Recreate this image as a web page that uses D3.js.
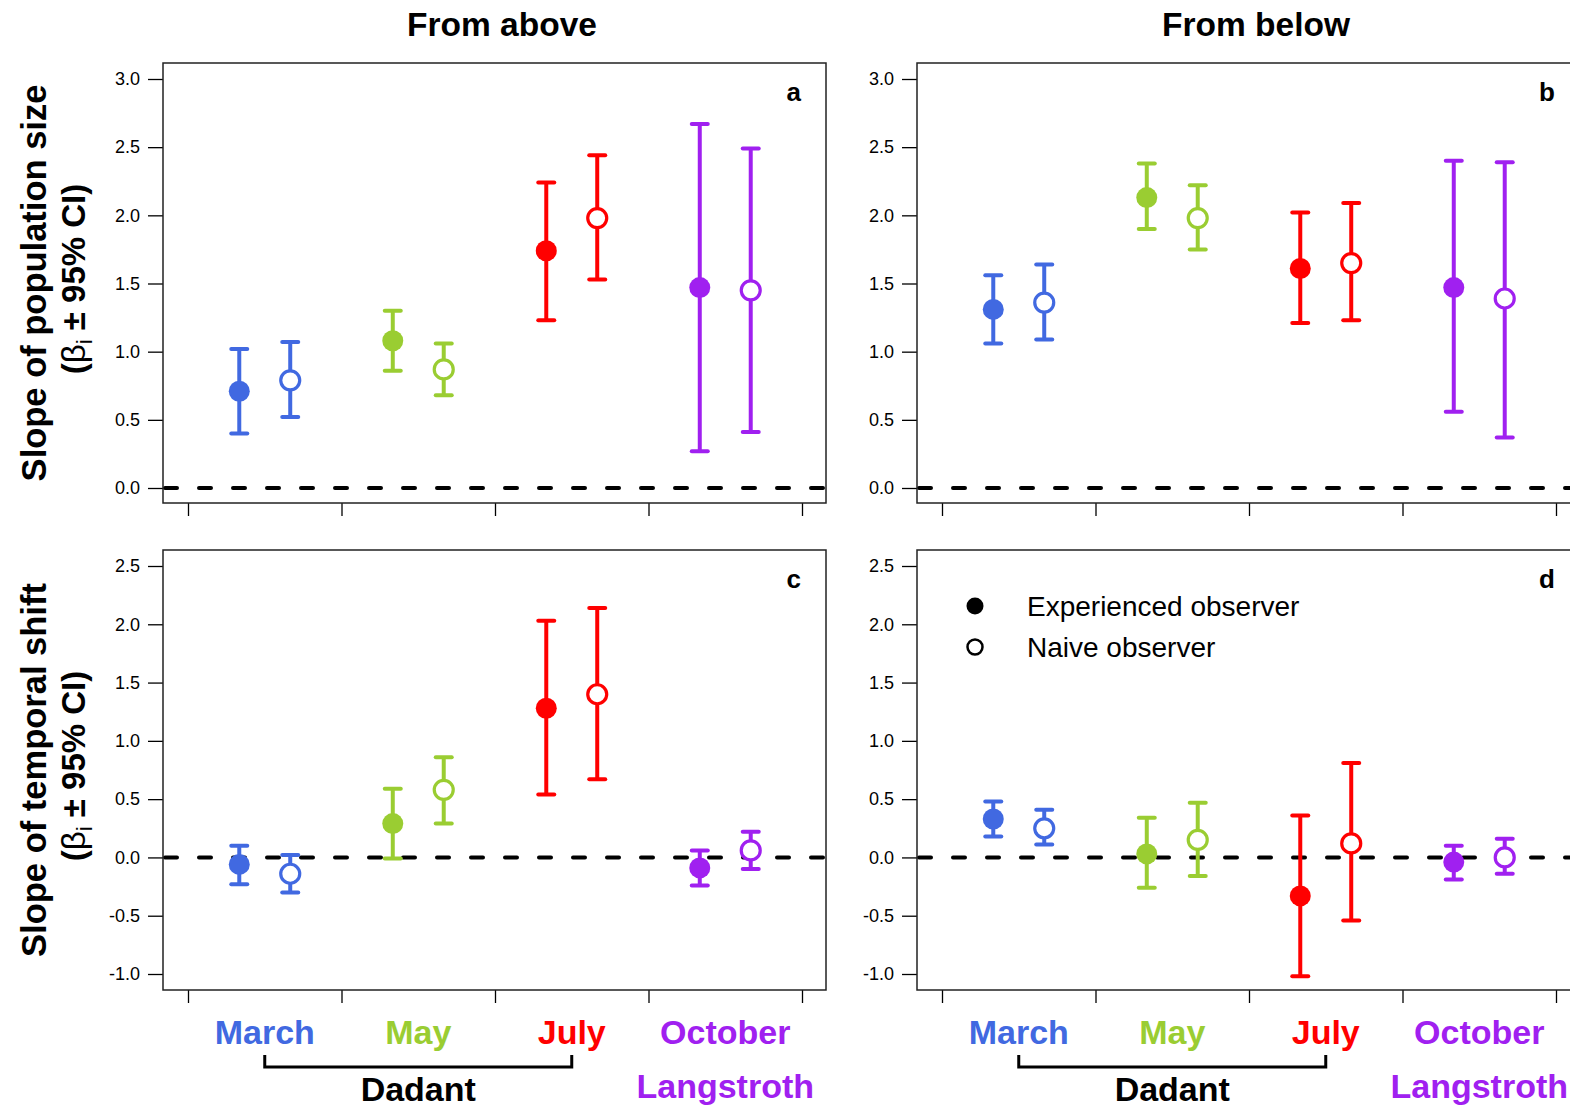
<!DOCTYPE html>
<html>
<head>
<meta charset="utf-8">
<script src="https://cdn.jsdelivr.net/npm/d3@7"></script>
<style>
  html, body { margin: 0; padding: 0; background: #fff; }
  svg { display: block; font-family: "Liberation Sans", Arial, Helvetica, sans-serif; }
</style>
</head>
<body>
<svg id="chart" width="1570" height="1109"></svg>
<script>
// ---------------- DATA ----------------
const months = ["March", "May", "July", "October"];
const monthColors = ["#4169E1", "#9ACD32", "#FF0000", "#A020F0"];
const observers = ["Experienced observer", "Naive observer"];

// Panel a: From above, population size  [exp, naive] per month
const aEst   = [[0.71, 0.79], [1.08, 0.87], [1.74, 1.98], [1.47, 1.45]];
const aLow   = [[0.40, 0.52], [0.86, 0.68], [1.23, 1.53], [0.27, 0.41]];
const aHigh  = [[1.02, 1.07], [1.30, 1.06], [2.24, 2.44], [2.67, 2.49]];
// Panel b: From below, population size
const bEst   = [[1.31, 1.36], [2.13, 1.98], [1.61, 1.65], [1.47, 1.39]];
const bLow   = [[1.06, 1.09], [1.90, 1.75], [1.21, 1.23], [0.56, 0.37]];
const bHigh  = [[1.56, 1.64], [2.38, 2.22], [2.02, 2.09], [2.40, 2.39]];
// Panel c: From above, temporal shift
const cEst   = [[-0.06, -0.14], [0.29, 0.58], [1.28, 1.40], [-0.09, 0.06]];
const cLow   = [[-0.23, -0.30], [-0.01, 0.29], [0.54, 0.67], [-0.24, -0.10]];
const cHigh  = [[0.10, 0.02], [0.59, 0.86], [2.03, 2.14], [0.06, 0.22]];
// Panel d: From below, temporal shift
const dEst   = [[0.33, 0.25], [0.03, 0.15], [-0.33, 0.12], [-0.04, 0.00]];
const dLow   = [[0.18, 0.11], [-0.26, -0.16], [-1.02, -0.54], [-0.19, -0.14]];
const dHigh  = [[0.48, 0.41], [0.34, 0.47], [0.36, 0.81], [0.10, 0.16]];

const ticksPop = [0, 0.5, 1.0, 1.5, 2.0, 2.5, 3.0];
const ticksShift = [-1.0, -0.5, 0, 0.5, 1.0, 1.5, 2.0, 2.5];
const xTicks = [0.5, 1.5, 2.5, 3.5, 4.5];
const columnTitles = ["From above", "From below"];
const panelLetters = ["a", "b", "c", "d"];
const rowTitles = ["Slope of population size", "Slope of temporal shift"];
const groupLabels = ["Dadant", "Langstroth"];

// ---------------- LAYOUT ----------------
const svg = d3.select("#chart");
const FONT = "'Liberation Sans', Arial, Helvetica, sans-serif";
const pw = 663, ph = 440;
const colX = [163, 917];
const rowY = [63, 550];
const fmt = d3.formatLocale({decimal: ".", thousands: ",", grouping: [3], currency: ["", ""], minus: "-"}).format(".1f");

const x = d3.scaleLinear().domain([0.5, 4.5]).range([25, 639]);
const offset = 0.166;
const yPop = d3.scaleLinear().domain([0, 3]).range([425, 16]);
const yShift = d3.scaleLinear().domain([-1, 2.5]).range([424, 16]);

const panels = [
  {est: aEst, low: aLow, high: aHigh, col: 0, row: 0, y: yPop, ticks: ticksPop, letter: panelLetters[0]},
  {est: bEst, low: bLow, high: bHigh, col: 1, row: 0, y: yPop, ticks: ticksPop, letter: panelLetters[1]},
  {est: cEst, low: cLow, high: cHigh, col: 0, row: 1, y: yShift, ticks: ticksShift, letter: panelLetters[2]},
  {est: dEst, low: dLow, high: dHigh, col: 1, row: 1, y: yShift, ticks: ticksShift, letter: panelLetters[3], legend: true}
];

panels.forEach(p => {
  const g = svg.append("g").attr("transform", `translate(${colX[p.col]},${rowY[p.row]})`);

  // y axis
  const ya = g.append("g").call(d3.axisLeft(p.y).tickValues(p.ticks).tickFormat(fmt).tickSize(15).tickPadding(8));
  ya.select(".domain").remove();
  ya.selectAll("line").attr("stroke", "#000").attr("stroke-width", 1.3);
  ya.selectAll("text").attr("font-family", FONT).attr("font-size", 18).attr("fill", "#000");

  // x axis (ticks only)
  const xa = g.append("g").attr("transform", `translate(0,${ph})`)
    .call(d3.axisBottom(x).tickValues(xTicks).tickFormat("").tickSize(13).tickSizeOuter(0));
  xa.select(".domain").remove();
  xa.selectAll("line").attr("stroke", "#000").attr("stroke-width", 1.3);

  // zero dashed line
  g.append("line")
    .attr("x1", 2).attr("x2", pw).attr("y1", p.y(0)).attr("y2", p.y(0))
    .attr("stroke", "#000").attr("stroke-width", 4)
    .attr("stroke-dasharray", "12,22").attr("stroke-linecap", "round");

  // data
  const rows = [];
  months.forEach((m, i) => {
    [0, 1].forEach(o => {
      rows.push({
        xv: (i + 1) + (o === 0 ? -offset : offset),
        est: p.est[i][o], low: p.low[i][o], high: p.high[i][o],
        color: monthColors[i], open: o === 1
      });
    });
  });

  const marks = g.selectAll(".mark").data(rows).enter().append("g").attr("class", "mark");
  marks.append("line")
    .attr("x1", d => x(d.xv)).attr("x2", d => x(d.xv))
    .attr("y1", d => p.y(d.low)).attr("y2", d => p.y(d.high))
    .attr("stroke", d => d.color).attr("stroke-width", 4);
  marks.append("line")
    .attr("x1", d => x(d.xv) - 8).attr("x2", d => x(d.xv) + 8)
    .attr("y1", d => p.y(d.high)).attr("y2", d => p.y(d.high))
    .attr("stroke", d => d.color).attr("stroke-width", 4).attr("stroke-linecap", "round");
  marks.append("line")
    .attr("x1", d => x(d.xv) - 8).attr("x2", d => x(d.xv) + 8)
    .attr("y1", d => p.y(d.low)).attr("y2", d => p.y(d.low))
    .attr("stroke", d => d.color).attr("stroke-width", 4).attr("stroke-linecap", "round");
  marks.append("circle")
    .attr("cx", d => x(d.xv)).attr("cy", d => p.y(d.est))
    .attr("r", d => d.open ? 9.5 : 10.5)
    .attr("fill", d => d.open ? "#fff" : d.color)
    .attr("stroke", d => d.open ? d.color : "none")
    .attr("stroke-width", 3.2);

  // frame
  g.append("rect").attr("x", 0).attr("y", 0).attr("width", pw).attr("height", ph)
    .attr("fill", "none").attr("stroke", "#222").attr("stroke-width", 1.5);

  // panel letter
  g.append("text").attr("x", 638).attr("y", 38).attr("text-anchor", "end")
    .attr("font-family", FONT).attr("font-weight", "bold").attr("font-size", 26)
    .text(p.letter);

  // legend
  if (p.legend) {
    const lg = g.append("g");
    observers.forEach((lab, k) => {
      const cy = 56 + k * 41;
      lg.append("circle").attr("cx", 58).attr("cy", cy)
        .attr("r", k === 0 ? 8.5 : 7.5)
        .attr("fill", k === 0 ? "#000" : "#fff")
        .attr("stroke", k === 0 ? "none" : "#000").attr("stroke-width", 2.5);
      lg.append("text").attr("x", 110).attr("y", cy + 10)
        .attr("font-family", FONT).attr("font-size", 28).text(lab);
    });
  }
});

// column titles
columnTitles.forEach((t, c) => {
  svg.append("text").attr("x", colX[c] + 339).attr("y", 36).attr("text-anchor", "middle")
    .attr("font-family", FONT).attr("font-weight", "bold").attr("font-size", 33.5).text(t);
});

// row titles
rowTitles.forEach((t, r) => {
  const cy = rowY[r] + ph / 2;
  svg.append("text").attr("transform", `translate(46,${cy}) rotate(-90)`)
    .attr("text-anchor", "middle").attr("font-family", FONT).attr("font-weight", "bold")
    .attr("font-size", 34.5).text(t);
  const t2 = svg.append("text").attr("transform", `translate(85,${cy - 4}) rotate(-90)`)
    .attr("text-anchor", "middle").attr("font-family", FONT).attr("font-weight", "bold")
    .attr("font-size", 33);
  t2.append("tspan").text("(");
  t2.append("tspan").attr("font-weight", "normal").text("β");
  t2.append("tspan").attr("font-weight", "normal").attr("font-size", 22).attr("dy", 7).text("i");
  t2.append("tspan").attr("dy", -7).text(" ± 95% CI)");
});

// month labels and brackets
colX.forEach(cx => {
  months.forEach((m, i) => {
    svg.append("text").attr("x", cx + x(i + 1)).attr("y", 1044).attr("text-anchor", "middle")
      .attr("font-family", FONT).attr("font-weight", "bold").attr("font-size", 34)
      .attr("fill", monthColors[i]).text(m);
  });
  const bx1 = cx + x(1), bx2 = cx + x(3);
  svg.append("path")
    .attr("d", `M${bx1},1055 V1067 H${bx2} V1055`)
    .attr("fill", "none").attr("stroke", "#000").attr("stroke-width", 3);
  svg.append("text").attr("x", cx + x(2)).attr("y", 1101).attr("text-anchor", "middle")
    .attr("font-family", FONT).attr("font-weight", "bold").attr("font-size", 34)
    .attr("fill", "#000").text(groupLabels[0]);
  svg.append("text").attr("x", cx + x(4)).attr("y", 1098).attr("text-anchor", "middle")
    .attr("font-family", FONT).attr("font-weight", "bold").attr("font-size", 34)
    .attr("fill", monthColors[3]).text(groupLabels[1]);
});
</script>
</body>
</html>
